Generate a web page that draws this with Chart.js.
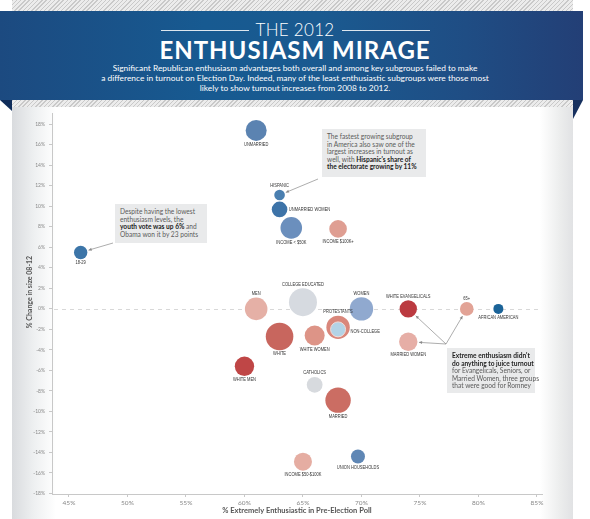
<!DOCTYPE html>
<html>
<head>
<meta charset="utf-8">
<script src="https://cdn.jsdelivr.net/npm/chart.js@4.4.0/dist/chart.umd.min.js"></script>
<style>
  html, body { margin: 0; padding: 0; background: #fff; }
  #page { position: relative; width: 590px; height: 519px; overflow: hidden; background: #fff; font-family: Lato, "Open Sans", sans-serif; }
  #panel { position: absolute; left: 12px; top: 0; width: 561px; height: 519px;
    background: linear-gradient(to right, #d9dbde 0px, #eef0f1 22px, #fff 44px, #fff 528px, #eceded 548px, #e1e2e4 561px); }
  .hatch { position: absolute; left: 12px; width: 561px;
    background: repeating-linear-gradient(135deg, #c9c9c9 0px, #c9c9c9 1px, #ececec 1px, #ececec 3px); }
  #banner { position: absolute; left: 0; top: 11px; width: 583px; height: 89px;
    background: linear-gradient(to right, #1c4a80 0%, #175a91 35%, #1a5a90 55%, #1f4d84 80%, #233f76 100%); }
  #foldL { position: absolute; left: 0; top: 100px; width: 12px; height: 11px; background: #102d5a; clip-path: polygon(0 0, 100% 0, 100% 100%); }
  #foldR { position: absolute; left: 573px; top: 100px; width: 10px; height: 19px; background: #16305f; clip-path: polygon(0 0, 100% 0, 0 100%); }
  .t1 { position: absolute; left: 0; width: 590px; text-align: center; color: #fff; }
  #the { top: 20px; height: 20px; display: flex; justify-content: center; align-items: center; font-size: 17px; line-height: 20px; font-weight: 300; letter-spacing: 0.3px; }
  #the .rule { width: 88px; height: 1px; background: rgba(255,255,255,0.85); margin: 0 7px; }
  #main { top: 37px; font-size: 24px; line-height: 26px; font-weight: 700; letter-spacing: 1px; }
  #sub { top: 63px; font-size: 8.4px; line-height: 10px; }
  canvas { position: absolute; left: 0; top: 0; }
  .note { position: absolute; background: #e9eaeb; color: #5a5a5a; font-size: 6.6px; line-height: 7.5px; padding: 4px 5px; box-sizing: border-box; white-space: nowrap; }
  .note b { color: #222; font-weight: 700; }
</style>
</head>
<body>
<div id="page">
  <div id="panel"></div>
  <div class="hatch" style="top:0;height:11px"></div>
  <div class="hatch" style="top:100px;height:7px"></div>
  <div id="banner"></div>
  <div id="foldL"></div>
  <div id="foldR"></div>
  <div class="t1" id="the"><span class="rule"></span><span>THE 2012</span><span class="rule"></span></div>
  <div class="t1" id="main">ENTHUSIASM MIRAGE</div>
  <div class="t1" id="sub">Significant Republican enthusiasm advantages both overall and among key subgroups failed to make<br>a difference in turnout on Election Day. Indeed, many of the least enthusiastic subgroups were those most<br>likely to show turnout increases from 2008 to 2012.</div>
  <canvas id="c" width="590" height="519"></canvas>
  <div class="note" style="left:115px;top:204px;width:92px;height:39px">Despite having the lowest<br>enthusiasm levels, the<br><b>youth vote was up 6%</b> and<br>Obama won it by 23 points</div>
  <div class="note" style="left:322px;top:129px;width:104px;height:48px">The fastest growing subgroup<br>in America also saw one of the<br>largest increases in turnout as<br>well, with <b>Hispanic's share of<br>the electorate growing by 11%</b></div>
  <div class="note" style="left:447px;top:348px;width:88px;height:45px"><b>Extreme enthusiasm didn't<br>do anything to juice turnout</b><br>for Evangelicals, Seniors, or<br>Married Women, three groups<br>that were good for Romney</div>
</div>
<script>
// ---- data ----
const groups = ["UNMARRIED","HISPANIC","UNMARRIED WOMEN","INCOME < $50K","INCOME $100K+","18-29","MEN","COLLEGE EDUCATED","WOMEN","WHITE EVANGELICALS","65+","AFRICAN AMERICAN","PROTESTANTS","NON-COLLEGE","WHITE","WHITE WOMEN","WHITE MEN","MARRIED WOMEN","CATHOLICS","MARRIED","INCOME $50-$100K","UNION HOUSEHOLDS"];
const enthusiasm = [61, 63, 63, 64, 68, 46, 61, 65, 70, 74, 79, 81.7, 68, 68, 63, 66, 60, 74, 66, 68, 65, 69.7];
const changeInSize = [17.4, 11.1, 9.7, 7.9, 7.8, 5.5, 0, 0.65, 0, 0, 0, 0, -1.8, -2.0, -2.7, -2.6, -5.6, -3.2, -7.4, -8.9, -14.9, -14.4];
const groupSize = [10.5, 5.3, 7.8, 10.8, 8.8, 6.7, 11.3, 14, 11.7, 8.7, 6.8, 5, 11.7, 7.5, 13.8, 10, 9.7, 9.2, 7.9, 12.7, 9, 7];
const xTicks = [45, 50, 55, 60, 65, 70, 75, 80, 85];
const yTicks = [18, 16, 14, 12, 10, 8, 6, 4, 2, 0, -2, -4, -6, -8, -10, -12, -14, -16, -18];

// ---- styles ----
const colors = ["#5b83b1","#4a7fb0","#3d73a8","#6b8fbd","#df9e92","#3c75a8","#e5b0a6","#d6dae0","#90a9cf","#bb3a40","#e2a396","#1b6398","#d9877b","#b3d3e6","#c8665e","#dd9487","#bf4646","#e6aea6","#d7dade","#cb6d63","#e5ada2","#5f87b5"];
const placement = {"HISPANIC":"above","MEN":"above","COLLEGE EDUCATED":"above","WOMEN":"above","WHITE EVANGELICALS":"above","65+":"above","PROTESTANTS":"above","CATHOLICS":"above","UNMARRIED WOMEN":"right","NON-COLLEGE":"rightFar"};
const labelFont = '5.6px "Liberation Sans", Arial, sans-serif';
const labelSquash = 0.72;

const decor = {
  id: 'decor',
  beforeDatasetsDraw(chart) {
    const {ctx, scales: {x, y}, chartArea} = chart;
    ctx.save();
    ctx.strokeStyle = '#d8d8d8';
    ctx.lineWidth = 1;
    ctx.setLineDash([4, 4]);
    ctx.beginPath();
    const y0 = Math.round(y.getPixelForValue(0)) + 0.5;
    ctx.moveTo(chartArea.left + 2, y0);
    ctx.lineTo(chartArea.right - 2, y0);
    ctx.stroke();
    ctx.restore();
    // y axis title
    ctx.save();
    ctx.translate(30, 292);
    ctx.rotate(-Math.PI / 2);
    ctx.font = 'bold 7px Lato, "Open Sans", sans-serif';
    ctx.fillStyle = '#555';
    ctx.textAlign = 'center';
    ctx.textBaseline = 'middle';
    ctx.fillText('% Change in size 08-12', 0, 0);
    ctx.restore();
  },
  afterDatasetsDraw(chart) {
    const {ctx} = chart;
    const pts = chart.getDatasetMeta(0).data;
    ctx.save();
    ctx.font = labelFont;
    ctx.fillStyle = '#333';
    ctx.textBaseline = 'middle';
    const put = (t, x, y, align) => {
      ctx.save();
      ctx.translate(x, y);
      ctx.scale(labelSquash, 1);
      ctx.textAlign = align;
      ctx.fillText(t, 0, 0);
      ctx.restore();
    };
    groups.forEach((g, i) => {
      const p = pts[i];
      const r = p.options.radius;
      const pl = placement[g] || 'below';
      if (pl === 'above') put(g, p.x, p.y - r - 4, 'center');
      else if (pl === 'right') put(g, p.x + r + 1.5, p.y, 'left');
      else if (pl === 'rightFar') put(g, p.x + 12.5, p.y + 2, 'left');
      else put(g, p.x, p.y + r + 3.5, 'center');
    });
    // connectors
    const link = (sx, sy, name) => {
      const p = pts[groups.indexOf(name)];
      const dx = sx - p.x, dy = sy - p.y, d = Math.hypot(dx, dy);
      const r = p.options.radius + 1.5;
      const ex = p.x + dx / d * r, ey = p.y + dy / d * r;
      ctx.strokeStyle = '#8a8a8a';
      ctx.lineWidth = 0.7;
      ctx.beginPath(); ctx.moveTo(sx, sy); ctx.lineTo(ex, ey); ctx.stroke();
      const a = Math.atan2(-dy, -dx);
      ctx.fillStyle = '#8a8a8a';
      ctx.beginPath();
      ctx.moveTo(ex, ey);
      ctx.lineTo(ex - 3.5 * Math.cos(a - 0.45), ey - 3.5 * Math.sin(a - 0.45));
      ctx.lineTo(ex - 3.5 * Math.cos(a + 0.45), ey - 3.5 * Math.sin(a + 0.45));
      ctx.closePath(); ctx.fill();
    };
    link(113, 243, '18-29');
    link(318, 179, 'HISPANIC');
    link(446, 344, 'WHITE EVANGELICALS');
    link(446, 344, '65+');
    link(446, 344, 'MARRIED WOMEN');
    ctx.restore();
  }
};

const tickFont = {family: 'Lato, "Open Sans", sans-serif'};
new Chart(document.getElementById('c'), {
  type: 'bubble',
  data: {
    datasets: [{
      data: groups.map((g, i) => ({x: enthusiasm[i], y: changeInSize[i], r: groupSize[i]})),
      backgroundColor: colors,
      borderColor: groups.map(g => g === 'NON-COLLEGE' ? '#f1ddd8' : 'rgba(0,0,0,0)'),
      borderWidth: groups.map(g => g === 'NON-COLLEGE' ? 1 : 0),
      hoverRadius: 0
    }]
  },
  options: {
    responsive: false,
    animation: false,
    devicePixelRatio: 1,
    layout: {padding: {left: 0, right: 48, top: 113, bottom: 0}},
    plugins: {legend: {display: false}, tooltip: {enabled: false}},
    scales: {
      x: {
        type: 'linear', min: 43.55, max: 85.43,
        afterBuildTicks: s => { s.ticks = xTicks.map(v => ({value: v})); },
        afterFit: s => { s.height = 25; },
        ticks: {callback: v => v + '%', color: '#888', font: {...tickFont, size: 6.5}, padding: 2, autoSkip: false, maxRotation: 0},
        grid: {drawOnChartArea: false, tickLength: 3, color: '#c8c8c8'},
        border: {color: '#c8c8c8'},
        title: {display: true, text: '% Extremely Enthusiastic in Pre-Election Poll', color: '#555', font: {...tickFont, size: 7.5, weight: 'bold'}, padding: {top: 0, bottom: 4}}
      },
      y: {
        type: 'linear', min: -18.05, max: 19.1,
        afterBuildTicks: s => { s.ticks = yTicks.map(v => ({value: v})); },
        afterFit: s => { s.width = 52; },
        ticks: {callback: v => v + '%', color: '#888', font: {...tickFont, size: 5}, padding: 4, autoSkip: false},
        grid: {drawOnChartArea: false, tickLength: 3, color: '#c8c8c8'},
        border: {color: '#c8c8c8'}
      }
    }
  },
  plugins: [decor]
});
</script>
</body>
</html>
